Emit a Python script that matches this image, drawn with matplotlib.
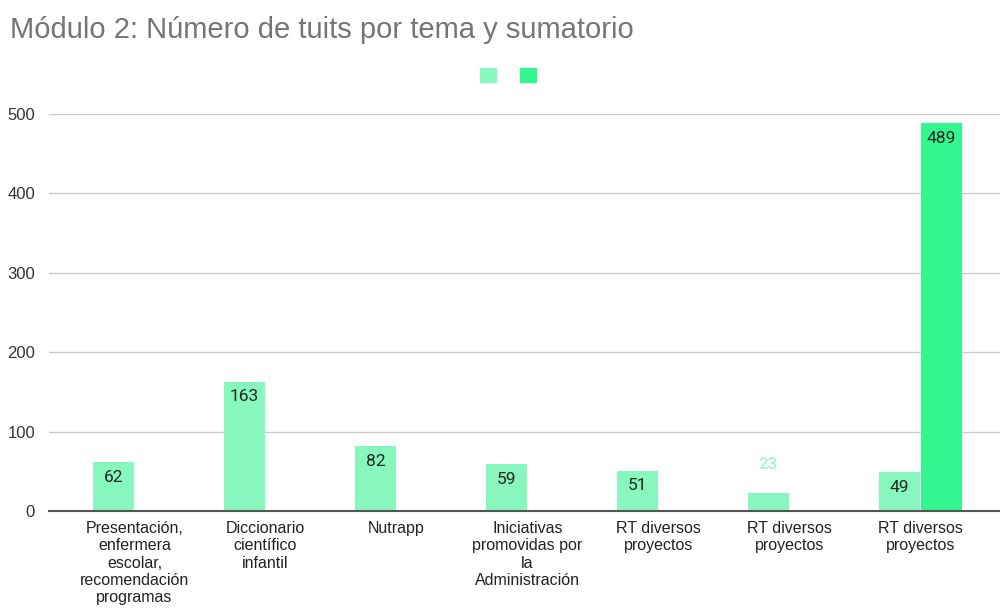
import matplotlib.pyplot as plt
from matplotlib.patches import Patch
import numpy as np

# Data
categorias = [
    'Presentación,\nenfermera\nescolar,\nrecomendación\nprogramas',
    'Diccionario\ncientífico\ninfantil',
    'Nutrapp',
    'Iniciativas\npromovidas por\nla\nAdministración',
    'RT diversos\nproyectos',
    'RT diversos\nproyectos',
    'RT diversos\nproyectos',
]
tuits = [62, 163, 82, 59, 51, 23, 49]
sumatorio = [0, 0, 0, 0, 0, 0, 489]

color_claro = '#87f7bd'
color_oscuro = '#33f78e'

fig = plt.figure(figsize=(10, 6.1), dpi=100)
ax = fig.add_axes([0.049, 0.1623, 0.951, 0.6508])

x = np.arange(len(categorias))
w = 0.313
b1 = ax.bar(x - w / 2 - 0.005, tuits, w, color=color_claro, zorder=3)
b2 = ax.bar(x + w / 2 + 0.005, sumatorio, w, color=color_oscuro, zorder=3)

# Data labels
for rect, v in zip(b1, tuits):
    cx = rect.get_x() + rect.get_width() / 2
    if v < 40:
        ax.annotate(str(v), (cx, v), xytext=(0, 20), textcoords='offset points',
                    ha='center', va='center', fontsize=12, color='#b0f3d2',
                    family='Roboto', fontweight='bold', zorder=4)
    else:
        ax.annotate(str(v), (cx, v), xytext=(0, -11), textcoords='offset points',
                    ha='center', va='center', fontsize=12.5, color='#1e2a22',
                    family='Roboto', zorder=4)
for rect, v in zip(b2, sumatorio):
    if v > 0:
        cx = rect.get_x() + rect.get_width() / 2
        ax.annotate(str(v), (cx, v), xytext=(0, -11), textcoords='offset points',
                    ha='center', va='center', fontsize=12.5, color='#1e2a22',
                    family='Roboto', zorder=4)

ax.set_xlim(-0.653, 6.607)
ax.set_ylim(0, 500)
ax.set_yticks([0, 100, 200, 300, 400, 500])
ax.set_xticks(x)
ax.set_xticklabels(categorias, fontsize=11.5, family='Liberation Sans',
                   color='#222222', linespacing=1.2, va='top')
ax.tick_params(axis='x', length=0, pad=7)
ax.tick_params(axis='y', length=0, pad=10, labelsize=12, labelcolor='#333333')
for lab in ax.get_yticklabels():
    lab.set_family('Liberation Sans')

ax.grid(axis='y', color='#cccccc', linewidth=1, zorder=0)
for s in ['top', 'right', 'left']:
    ax.spines[s].set_visible(False)
ax.spines['bottom'].set_color('#555555')
ax.spines['bottom'].set_linewidth(1.5)
ax.spines['bottom'].set_zorder(5)

fig.text(0.01, 0.95, 'Módulo 2: Número de tuits por tema y sumatorio',
         fontsize=21, color='#757575', family='Liberation Sans', va='center')

handles = [Patch(color=color_claro), Patch(color=color_oscuro)]
fig.legend(handles, ['', ''], ncol=2, loc='center', bbox_to_anchor=(0.508, 0.877),
           frameon=False, handlelength=1.15, handleheight=1.15, columnspacing=1.7,
           handletextpad=0.0)

fig.savefig('out.png')
